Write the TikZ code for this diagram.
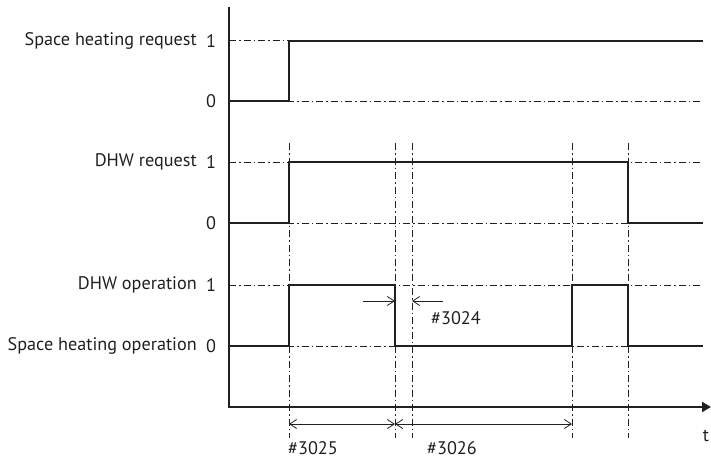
\documentclass[tikz,border=0pt]{standalone}
\usepackage{fontspec}
\setmainfont{PT Sans}
\usetikzlibrary{arrows.meta}
\definecolor{ink}{HTML}{231F20}
\begin{document}
\begin{tikzpicture}[x=1pt,y=-1pt,color=ink,
  axis/.style={line width=2.8pt},
  sig/.style={line width=2.8pt,line join=miter},
  guide/.style={line width=1pt,dash pattern=on 7pt off 3pt on 1.5pt off 3pt},
  dim/.style={line width=0.8pt,-{Straight Barb[length=7pt,width=9pt,line width=0.8pt]}},
  dimd/.style={line width=0.8pt,{Straight Barb[length=7pt,width=9pt,line width=0.8pt]}-{Straight Barb[length=7pt,width=9pt,line width=0.8pt]}},
  lbl/.style={font=\fontsize{18.2}{20}\selectfont,inner sep=0pt},
]
\useasboundingbox (0,0) rectangle (711,460);
% coordinates
\coordinate (o) at (229,407);
\coordinate (ytop) at (229,7);
\coordinate (xend) at (711,407);
% guides horizontal
\foreach \yy in {41,101,162,223,285,346}{
  \draw[guide] (229,\yy) -- (703,\yy);
}
% guides vertical
\foreach \xx in {289,395,412,572,628}{
  \draw[guide] (\xx,143) -- (\xx,438);
}
% axes
\draw[axis] (ytop) -- (o);
\draw[axis,-{Triangle[length=9pt,width=10pt]}] ([xshift=-1.4pt]o) -- (xend);
% signals
\draw[sig] (229,101) -- (289,101) -- (289,41) -- (703,41);
\draw[sig] (229,223) -- (289,223) -- (289,162) -- (628,162) -- (628,223) -- (703,223);
\draw[sig] (229,346) -- (289,346) -- (289,285) -- (395,285) -- (395,346) -- (572,346) -- (572,285) -- (628,285) -- (628,346) -- (703,346);
% labels
\node[lbl,anchor=east] (l1) at (197,41) {Space heating request};
\node[lbl] (n1) at (211,41) {1};
\node[lbl] (n2) at (211,101) {0};
\node[lbl,anchor=east] (l2) at (197,162) {DHW request};
\node[lbl] (n3) at (211,162) {1};
\node[lbl] (n4) at (211,223) {0};
\node[lbl,anchor=east] (l3) at (197,285) {DHW operation};
\node[lbl] (n5) at (211,285) {1};
\node[lbl,anchor=east] (l4) at (197,346) {Space heating operation};
\node[lbl] (n6) at (211,346) {0};
\node[lbl] (t) at (706,436) {t};
% dimensions
\coordinate (a1) at (363,301);
\coordinate (a2) at (395,301);
\coordinate (b1) at (443,301);
\coordinate (b2) at (412,301);
\draw[dim] (a1) -- (a2);
\draw[dim] (b1) -- (b2);
\node[lbl,anchor=west] (d24) at (431,318) {\#3024};
\coordinate (c1) at (289,424);
\coordinate (c2) at (395,424);
\coordinate (c3) at (572,424);
\draw[dimd] (c1) -- (c2);
\draw[dimd] (c2) -- (c3);
\node[lbl,anchor=west] (d25) at (288,448) {\#3025};
\node[lbl,anchor=west] (d26) at (427,448) {\#3026};
\end{tikzpicture}
\end{document}
